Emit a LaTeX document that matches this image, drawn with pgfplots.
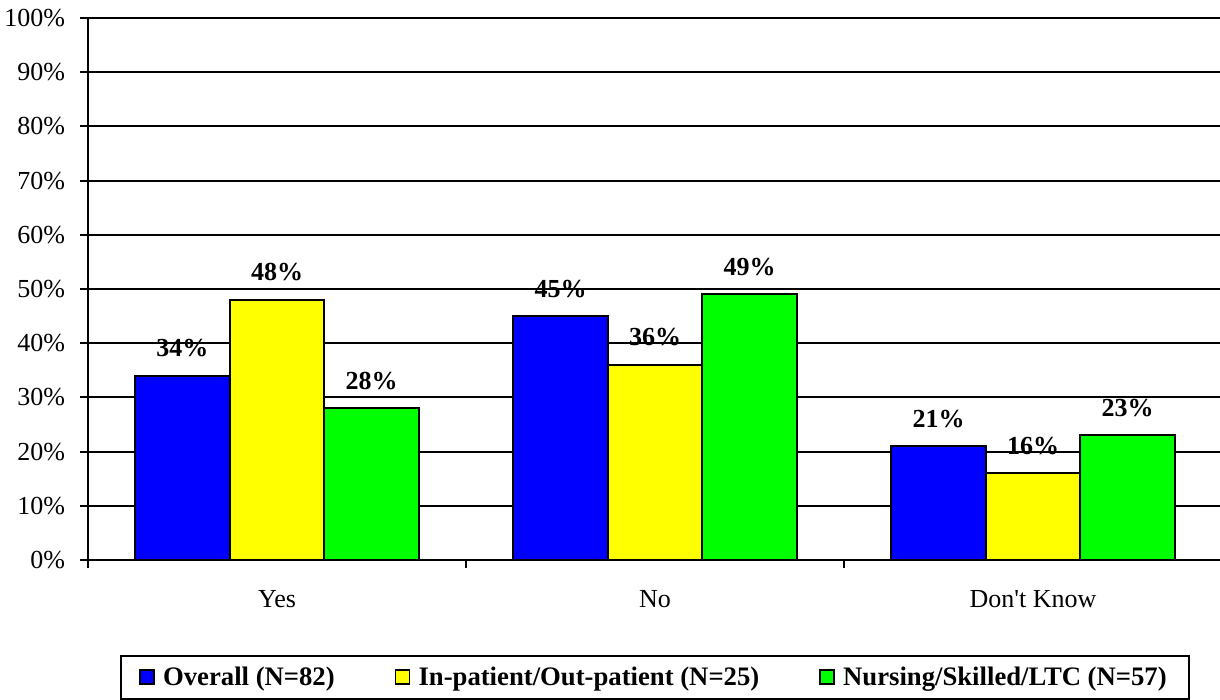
\documentclass[border=0pt]{standalone}
\usepackage{pgfplots}
\pgfplotsset{compat=1.18}
\usepackage{fontspec}
\setmainfont{Liberation Serif}
\definecolor{cblue}{RGB}{0,0,255}
\definecolor{cyel}{RGB}{255,255,0}
\definecolor{cgreen}{RGB}{0,255,0}
\pgfplotsset{sqlegend/.style={legend image code/.code={\draw[##1,draw=black,line width=0.8pt] (0pt,-3.5pt) rectangle (7pt,3.5pt); \path (9pt,0pt);}}}
\begin{document}
\begin{tikzpicture}[font=\fontsize{13}{15.6}\selectfont]
\begin{axis}[
  at={(0,0)}, anchor=south west,
  scale only axis, width=567pt, height=271pt,
  ybar=0pt, bar width=0.25,
  xmin=-0.5, xmax=2.5, ymin=0, ymax=100,
  axis lines=left, axis line style={-, line width=1pt, black},
  ytick={0,10,...,100},
  yticklabels={0\%,10\%,20\%,30\%,40\%,50\%,60\%,70\%,80\%,90\%,100\%},
  yticklabel style={xshift=-4pt},
  ymajorgrids, major grid style={black, line width=1pt},
  tick align=outside, major tick length=4pt, tick style={black, line width=1pt},
  xtick={-0.5,0.5,1.5,2.5}, xticklabels={},
  extra x ticks={0,1,2}, extra x tick labels={Yes,No,Don\textquotesingle t Know},
  extra x tick style={major tick length=0pt, grid=none, xticklabel style={anchor=base, yshift=-23.5pt}},
  /pgf/number format/assume math mode=true,
  nodes near coords={\pgfmathprintnumber{\pgfplotspointmeta}\%},
  every node near coord/.append style={font=\bfseries\fontsize{13}{15.6}\selectfont, anchor=base, yshift=9.5pt, black},
  clip=false,
  legend columns=3,
  legend cell align=left,
  legend style={at={(0.5,0)}, anchor=north, yshift=-47.5pt, draw=black, line width=1pt,
    inner xsep=9pt, inner ysep=3.25pt,
    font=\bfseries\fontsize{13.35}{16}\selectfont,
    /tikz/every even column/.append style={column sep=28pt}},
]
\addplot[fill=cblue, draw=black, line width=1pt, sqlegend] coordinates {(0,34) (1,45) (2,21)};
\addplot[fill=cyel, draw=black, line width=1pt, sqlegend] coordinates {(0,48) (1,36) (2,16)};
\addplot[fill=cgreen, draw=black, line width=1pt, sqlegend] coordinates {(0,28) (1,49) (2,23)};
\legend{Overall (N=82),In-patient/Out-patient (N=25),Nursing/Skilled/LTC (N=57)}
\end{axis}
\pgfresetboundingbox
\useasboundingbox (-44pt,-70pt) rectangle (566pt,280pt);
\end{tikzpicture}
\end{document}
